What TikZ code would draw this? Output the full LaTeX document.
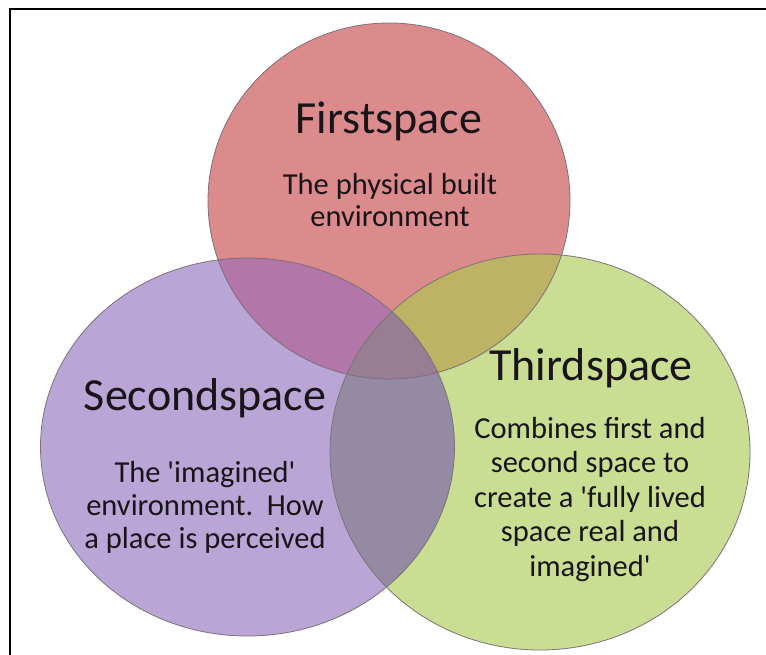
\documentclass[tikz,border=0pt]{standalone}
\usepackage{fontspec}
\setmainfont{Carlito}
\definecolor{cR}{RGB}{220,139,140}
\definecolor{cP}{RGB}{185,166,214}
\definecolor{cG}{RGB}{201,222,146}
\definecolor{cRP}{RGB}{178,118,168}
\definecolor{cRG}{RGB}{190,178,100}
\definecolor{cPG}{RGB}{148,138,163}
\definecolor{cRPG}{RGB}{152,126,146}
\definecolor{cEdge}{RGB}{125,112,122}
\definecolor{cText}{RGB}{25,20,25}
\newcommand{\sq}{\textquotesingle}
\begin{document}
\begin{tikzpicture}[x=1pt,y=-1pt,
  head/.style={font=\fontsize{46}{50}\selectfont, text=cText, inner sep=0pt, anchor=base},
  body/.style={font=\fontsize{30.5}{34.5}\selectfont, text=cText, inner sep=0pt, anchor=base},
  rim/.style={draw=cEdge, line width=0.8pt}]
\useasboundingbox (0,0) rectangle (766,655);
\fill[white] (0,0) rectangle (766,655);
% base fills
\fill[cR] (389,201) ellipse [x radius=181, y radius=178];
\fill[cP] (247.5,447) ellipse [x radius=207, y radius=189];
\fill[cG] (540,452) ellipse [x radius=210, y radius=198];
% overlaps with red
\begin{scope}
  \clip (389,201) ellipse [x radius=181, y radius=178];
  \fill[cRP] (247.5,447) ellipse [x radius=207, y radius=189];
  \fill[cRG] (540,452) ellipse [x radius=210, y radius=198];
\end{scope}
% purple-green and triple overlap
\begin{scope}
  \clip (247.5,447) ellipse [x radius=207, y radius=189];
  \fill[cPG] (540,452) ellipse [x radius=210, y radius=198];
  \clip (540,452) ellipse [x radius=210, y radius=198];
  \fill[cRPG] (389,201) ellipse [x radius=181, y radius=178];
\end{scope}
% outlines
\draw[rim] (389,201) ellipse [x radius=181, y radius=178];
\draw[rim] (247.5,447) ellipse [x radius=207, y radius=189];
\draw[rim] (540,452) ellipse [x radius=210, y radius=198];
% frame
\draw[line width=2.4pt, line cap=rect] (10,655) -- (10,9) -- (766,9);
% texts
\node[head] (first) at (389,134) {Firstspace};
\node[body] (firstbody) at (390,195) {\fontsize{30.5}{32}\selectfont\begin{tabular}[t]{@{}c@{}}The physical built\\environment\end{tabular}};
\node[head] (second) at (205,410) {Secondspace};
\node[body] (secondbody) at (205,482) {\fontsize{30.5}{33}\selectfont\begin{tabular}[t]{@{}c@{}}The \sq imagined\sq\\environment.\ \ How\\a place is perceived\end{tabular}};
\node[head] (third) at (591,380) {Thirdspace};
\node[body] (thirdbody) at (590,438) {\begin{tabular}[t]{@{}c@{}}Combines first and\\second space to\\create a \sq fully lived\\space real and\\imagined\sq\end{tabular}};
\end{tikzpicture}
\end{document}
